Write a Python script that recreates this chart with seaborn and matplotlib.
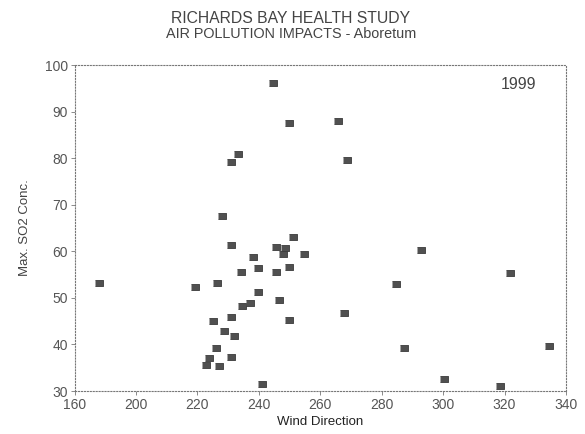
import matplotlib
matplotlib.use('Agg')
import matplotlib.pyplot as plt
import seaborn as sns
import pandas as pd

# wind direction (deg) and max SO2 concentration
wind_dir = [187.9, 219.3, 226.4, 228.0, 230.9, 233.2, 244.6, 230.9, 245.6, 248.5,
            247.9, 251.1, 254.7, 238.1, 239.8, 234.3, 245.6, 249.8, 239.8, 246.6,
            234.6, 237.2, 225.0, 230.9, 249.8, 228.6, 231.9, 226.0, 223.8, 222.8,
            227.0, 230.9, 241.0, 249.8, 265.8, 268.7, 267.7, 284.7, 287.2, 292.8,
            300.3, 318.5, 321.8, 334.4]
max_so2 = [53.3, 52.4, 53.2, 67.6, 79.2, 80.9, 96.1, 61.3, 61.0, 60.7,
           59.4, 63.0, 59.4, 58.8, 56.4, 55.6, 55.6, 56.7, 51.3, 49.6,
           48.3, 48.9, 45.1, 46.0, 45.3, 42.9, 41.8, 39.3, 37.1, 35.6,
           35.4, 37.3, 31.5, 87.6, 88.0, 79.6, 46.8, 53.0, 39.3, 60.3,
           32.6, 31.1, 55.4, 39.7]

x_ticks = [180, 200, 220, 240, 260, 280, 300, 320, 340]
x_tick_labels = ['160', '200', '220', '240', '260', '280', '300', '320', '340']
y_ticks = [30, 40, 50, 60, 70, 80, 90, 100]

df = pd.DataFrame({'Wind Direction': wind_dir, 'Max. SO2 Conc.': max_so2})

sns.set_style('white')
plt.rcParams['font.family'] = ['Liberation Sans', 'DejaVu Sans']

fig = plt.figure(figsize=(5.85, 4.34), dpi=100)
ax = fig.add_axes([0.1275, 0.099, 0.84, 0.751])

rect = [(-1.25, -1), (1.25, -1), (1.25, 1), (-1.25, 1)]
sns.scatterplot(data=df, x='Wind Direction', y='Max. SO2 Conc.', ax=ax,
                marker=rect, s=38, color='#505050', edgecolor='#3a3a3a', linewidth=0.6)

ax.set_xlim(180, 340)
ax.set_ylim(30, 100)
ax.set_xticks(x_ticks)
ax.set_xticklabels(x_tick_labels)
ax.set_yticks(y_ticks)
ax.tick_params(axis='both', labelsize=10, colors='#777777', length=3, width=0.6,
               direction='out', bottom=True, left=True, labelcolor='#555555', pad=2)

for sp in ax.spines.values():
    sp.set_linestyle(':')
    sp.set_color('#777777')
    sp.set_linewidth(0.8)

ax.set_xlabel('Wind Direction', fontsize=9.5, color='#222222', labelpad=3)
ax.set_ylabel('Max. SO2 Conc.', fontsize=9.5, color='#444444', labelpad=10)

ax.text(0.94, 0.965, '1999', transform=ax.transAxes, ha='right', va='top',
        fontsize=11.5, color='#444444')

fig.text(0.497, 0.957, 'RICHARDS BAY HEALTH STUDY', ha='center', va='center',
         fontsize=11.3, color='#444444')
fig.text(0.497, 0.922, 'AIR POLLUTION IMPACTS - Aboretum', ha='center', va='center',
         fontsize=10.4, color='#444444')

fig.savefig('out.png', dpi=100)
